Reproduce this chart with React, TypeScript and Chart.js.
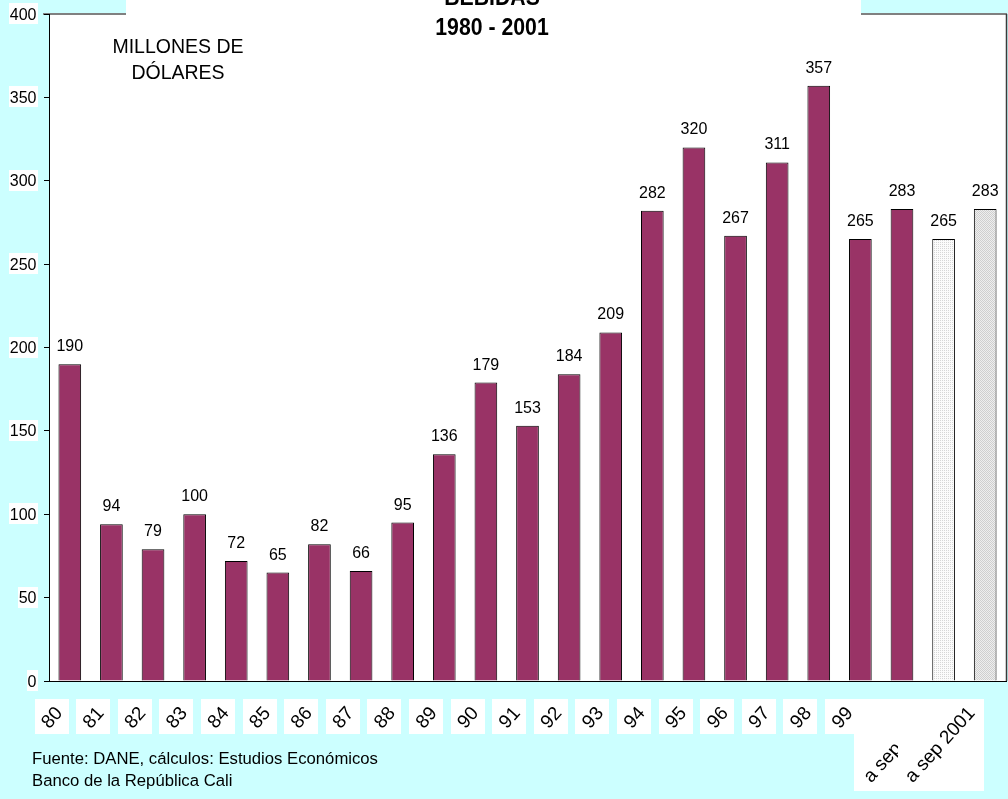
import React, { useEffect, useRef } from 'react';
import { Chart, registerables } from 'chart.js';

Chart.register(...registerables);

// ---- data ----
const categories: string[] = [
  '80', '81', '82', '83', '84', '85', '86', '87', '88', '89',
  '90', '91', '92', '93', '94', '95', '96', '97', '98', '99',
  '', 'a sep 2000', 'a sep 2001',
];
const values: number[] = [
  190, 94, 79, 100, 72, 65, 82, 66, 95, 136,
  179, 153, 184, 209, 282, 320, 267, 311, 357, 265,
  283, 265, 283,
];
const partialYearLabels: string[] = ['a sep 2000', 'a sep 2001'];
const yTicks = { min: 0, max: 400, step: 50 };
const titleLines: string[] = ['BEBIDAS', '1980 - 2001'];
const unitLines: string[] = ['MILLONES DE', 'DÓLARES'];
const sourceLines: string[] = [
  'Fuente: DANE, cálculos: Estudios Económicos',
  'Banco de la República Cali',
];

const FONT = '"Liberation Sans", Arial, Helvetica, sans-serif';
const MAROON = '#993366';
const PAGE_BG = '#CCFFFF';

function makePattern(bg: string, dot: string, dots: number[][]): CanvasPattern | string {
  const c = document.createElement('canvas');
  c.width = 2;
  c.height = 2;
  const g = c.getContext('2d');
  if (!g) return bg;
  g.fillStyle = bg;
  g.fillRect(0, 0, 2, 2);
  g.fillStyle = dot;
  dots.forEach(([x, y]) => g.fillRect(x, y, 1, 1));
  const ctx = document.createElement('canvas').getContext('2d');
  const p = ctx ? ctx.createPattern(c, 'repeat') : null;
  return p || bg;
}

export default function App() {
  const ref = useRef<HTMLCanvasElement | null>(null);

  useEffect(() => {
    document.body.style.margin = '0';
    const canvas = ref.current;
    if (!canvas) return;

    const patA = makePattern('#FBFBFB', '#D6D6D6', [[0, 0]]);
    const patB = makePattern('#EEEEEE', '#CFCFCF', [[0, 0], [1, 1]]);
    let partialCount = 0;
    const colors = categories.map((c) => {
      if (partialYearLabels.includes(c)) {
        partialCount += 1;
        return partialCount === 1 ? patA : patB;
      }
      return MAROON;
    });

    const backgroundPlugin = {
      id: 'bgPlot',
      beforeDraw(chart: any) {
        const { ctx, chartArea } = chart;
        const { left, right, top, bottom } = chartArea;
        ctx.save();
        ctx.fillStyle = PAGE_BG;
        ctx.fillRect(0, 0, chart.width, chart.height);
        ctx.fillStyle = '#FFFFFF';
        ctx.fillRect(left, top, right - left, bottom - top);
        // plot border
        ctx.strokeStyle = '#808080';
        ctx.lineWidth = 2;
        ctx.beginPath();
        ctx.moveTo(left - 6, top);
        ctx.lineTo(right + 1, top);
        ctx.stroke();
        ctx.strokeStyle = '#3a3a3a';
        ctx.lineWidth = 1.5;
        ctx.beginPath();
        ctx.moveTo(right + 0.5, top);
        ctx.lineTo(right + 0.5, bottom);
        ctx.stroke();
        // title box
        ctx.fillStyle = '#FFFFFF';
        ctx.fillRect(126, 0, 861 - 126, top + 1);
        ctx.restore();
      },
    };

    const annotatePlugin = {
      id: 'annotate',
      afterDraw(chart: any) {
        const { ctx } = chart;
        const xScale = chart.scales.x;
        const yScale = chart.scales.y;
        ctx.save();

        // y tick labels with white backdrops
        ctx.font = `16px ${FONT}`;
        ctx.textAlign = 'right';
        ctx.textBaseline = 'alphabetic';
        yScale.ticks.forEach((t: any) => {
          const y = yScale.getPixelForValue(t.value);
          const txt = String(t.value);
          const w = ctx.measureText(txt).width;
          ctx.fillStyle = '#FFFFFF';
          ctx.fillRect(Math.round(37 - w - 1.5), Math.round(y - 11), Math.round(w + 2.5), 21);
          ctx.fillStyle = '#000';
          ctx.fillText(txt, 36.5, y + 5.5);
        });

        // value labels
        ctx.fillStyle = '#000';
        ctx.font = `16px ${FONT}`;
        ctx.textAlign = 'center';
        ctx.textBaseline = 'alphabetic';
        const meta = chart.getDatasetMeta(0);
        values.forEach((v, i) => {
          const bar = meta.data[i];
          const y = yScale.getPixelForValue(v);
          ctx.fillText(String(v), bar.x, y - 13);
        });

        // category labels with white boxes
        const ang = (48 * Math.PI) / 180;
        const c = Math.cos(ang);
        const s = Math.sin(ang);
        ctx.font = `19px ${FONT}`;
        ctx.textAlign = 'right';
        categories.forEach((lab, i) => {
          if (!lab) return;
          const cx = xScale.getPixelForValue(i);
          const m = ctx.measureText(lab);
          const w = m.width;
          const asc = m.actualBoundingBoxAscent;
          const desc = Math.max(0, m.actualBoundingBoxDescent);
          const ay = 705 + asc * c;
          const ax = cx - 6.5 - desc * s;
          let xmin = ax - w * c - asc * s;
          const xmax = ax + desc * s;
          const ymin = ay - asc * c;
          const ymax = ay + w * s + desc * c;
          if (i > 0 && !categories[i - 1]) {
            xmin = Math.min(xmin, xScale.getPixelForValue(i - 1) - 43);
          }
          ctx.fillStyle = '#FFFFFF';
          ctx.fillRect(Math.round(xmin - 5), Math.round(ymin - 6), Math.round(xmax - xmin + 10), Math.round(ymax - ymin + 11));
          ctx.save();
          ctx.translate(ax, ay);
          ctx.rotate(-ang);
          ctx.fillStyle = '#000';
          ctx.fillText(lab, 0, 0);
          ctx.restore();
        });

        // title
        ctx.fillStyle = '#000';
        ctx.textAlign = 'center';
        ctx.font = `bold 24px ${FONT}`;
        [5, 34.5].forEach((by, k) => {
          ctx.save();
          ctx.translate(492, by);
          ctx.scale(0.885, 1);
          ctx.fillText(titleLines[k], 0, 0);
          ctx.restore();
        });

        // unit
        ctx.font = `19.5px ${FONT}`;
        ctx.fillText(unitLines[0], 178, 52.5);
        ctx.fillText(unitLines[1], 178, 78.5);

        // source
        ctx.textAlign = 'left';
        ctx.font = `16.7px ${FONT}`;
        ctx.fillText(sourceLines[0], 32, 763.5);
        ctx.fillText(sourceLines[1], 32, 786);

        ctx.restore();
      },
    };

    const chart = new Chart(canvas, {
      type: 'bar',
      data: {
        labels: categories,
        datasets: [
          {
            data: values,
            backgroundColor: colors as any,
            borderColor: '#000000',
            borderWidth: 1,
            barPercentage: 0.545,
            categoryPercentage: 1,
          },
        ],
      },
      options: {
        responsive: false,
        animation: false,
        devicePixelRatio: 1,
        layout: { padding: { top: 14, right: 2, left: 0, bottom: 0 } },
        plugins: {
          legend: { display: false },
          tooltip: { enabled: false },
          title: { display: false },
        },
        scales: {
          x: {
            type: 'category',
            offset: true,
            grid: { display: false, drawTicks: false },
            border: { display: true, color: '#000', width: 1 },
            ticks: { display: false },
            afterFit: (sc: any) => {
              sc.height = 118;
            },
          },
          y: {
            min: yTicks.min,
            max: yTicks.max,
            ticks: {
              stepSize: yTicks.step,
              display: false,
            },
            grid: {
              drawOnChartArea: false,
              drawTicks: true,
              tickLength: 5,
              color: '#000',
              lineWidth: 1,
            },
            border: { display: true, color: '#000', width: 1 },
            afterFit: (sc: any) => {
              sc.width = 49;
            },
          },
        },
      } as any,
      plugins: [backgroundPlugin, annotatePlugin],
    });

    return () => chart.destroy();
  }, []);

  return (
    <div style={{ position: 'absolute', left: 0, top: 0, width: 1008, height: 799, background: PAGE_BG }}>
      <canvas ref={ref} width={1008} height={799} style={{ display: 'block', width: 1008, height: 799 }} />
    </div>
  );
}
